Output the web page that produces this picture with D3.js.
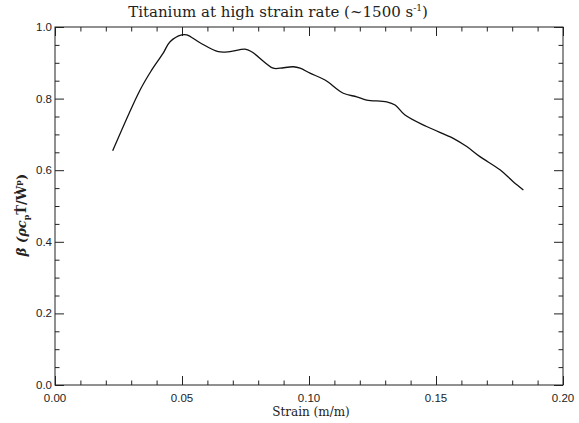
<!DOCTYPE html>
<html>
<head>
<meta charset="utf-8">
<script src="https://cdn.jsdelivr.net/npm/d3@7/dist/d3.min.js"></script>
<style>
  html, body { margin: 0; padding: 0; background: #fff; }
  svg { display: block; }
</style>
</head>
<body>
<svg id="chart" width="579" height="423"></svg>
<script>
// Strain (m/m) and the fraction of plastic work converted to heat
const strain = [0.0227, 0.0335, 0.0381, 0.0426, 0.0453, 0.0499, 0.0519, 0.0571, 0.0643, 0.0689,
  0.0748, 0.0774, 0.0859, 0.0886, 0.0938, 0.0965, 0.1004, 0.1063, 0.1135, 0.1188,
  0.1227, 0.1306, 0.1339, 0.1378, 0.1463, 0.1568, 0.1621, 0.1673, 0.1752, 0.1804, 0.1844];
const beta = [0.654, 0.824, 0.880, 0.927, 0.959, 0.978, 0.978, 0.956, 0.931, 0.931,
  0.938, 0.931, 0.885, 0.885, 0.889, 0.885, 0.871, 0.852, 0.815, 0.805,
  0.796, 0.791, 0.782, 0.754, 0.722, 0.689, 0.666, 0.638, 0.601, 0.568, 0.545];

const xTicks = [0.00, 0.05, 0.10, 0.15, 0.20];
const yTicks = [0.0, 0.2, 0.4, 0.6, 0.8, 1.0];
const xMinor = d3.range(0, 0.2001, 0.01);
const yMinor = d3.range(0, 1.0001, 0.05);

const L = 55, R = 563, T = 27, B = 385;
const svg = d3.select("#chart");
const x = d3.scaleLinear().domain([0, 0.2]).range([L, R]);
const y = d3.scaleLinear().domain([0, 1.0]).range([B, T]);

const ink = "#222";
const tickFont = "Liberation Sans, Arial, sans-serif";
const serif = "DejaVu Serif, serif";

// Frame
svg.append("rect").attr("x", L).attr("y", T).attr("width", R - L).attr("height", B - T)
  .attr("fill", "none").attr("stroke", ink).attr("stroke-width", 1);

// Inward ticks on all four sides
const isMajor = (v, list) => list.some(t => Math.abs(t - v) < 1e-9);
svg.append("g").attr("transform", `translate(0,${B})`)
  .call(d3.axisBottom(x).tickValues(xMinor).tickSizeOuter(0).tickFormat(""))
  .call(g => { g.select(".domain").remove();
    g.selectAll(".tick line").attr("stroke", ink)
      .attr("y2", d => isMajor(d, xTicks) ? -9 : -4.5); });
svg.append("g").attr("transform", `translate(0,${T})`)
  .call(d3.axisTop(x).tickValues(xMinor).tickSizeOuter(0).tickFormat(""))
  .call(g => { g.select(".domain").remove();
    g.selectAll(".tick line").attr("stroke", ink)
      .attr("y2", d => isMajor(d, xTicks) ? 9 : 4.5); });
svg.append("g").attr("transform", `translate(${L},0)`)
  .call(d3.axisLeft(y).tickValues(yMinor).tickSizeOuter(0).tickFormat(""))
  .call(g => { g.select(".domain").remove();
    g.selectAll(".tick line").attr("stroke", ink)
      .attr("x2", d => isMajor(d, yTicks) ? 9 : 4.5); });
svg.append("g").attr("transform", `translate(${R},0)`)
  .call(d3.axisRight(y).tickValues(yMinor).tickSizeOuter(0).tickFormat(""))
  .call(g => { g.select(".domain").remove();
    g.selectAll(".tick line").attr("stroke", ink)
      .attr("x2", d => isMajor(d, yTicks) ? -9 : -4.5); });

// Tick labels
svg.append("g").selectAll("text").data(xTicks).join("text")
  .attr("x", d => x(d)).attr("y", 401.5)
  .attr("text-anchor", "middle").attr("font-family", tickFont).attr("font-size", 11.5)
  .attr("fill", ink).text(d => d3.format(".2f")(d));
svg.append("g").selectAll("text").data(yTicks).join("text")
  .attr("x", L - 3).attr("y", d => y(d) + 4)
  .attr("text-anchor", "end").attr("font-family", tickFont).attr("font-size", 11.5)
  .attr("fill", ink).text(d => d3.format(".1f")(d));

// Curve
svg.append("path")
  .datum(strain.map((s, i) => [s, beta[i]]))
  .attr("fill", "none").attr("stroke", "#111").attr("stroke-width", 1.3)
  .attr("d", d3.line().x(d => x(d[0])).y(d => y(d[1])).curve(d3.curveCatmullRom.alpha(0.5)));

// Title
const title = svg.append("text").attr("x", 278).attr("y", 17)
  .attr("text-anchor", "middle").attr("font-family", serif).attr("font-size", 15).attr("fill", ink);
title.append("tspan").text("Titanium at high strain rate (~1500 s");
title.append("tspan").attr("dy", -6).attr("font-size", 9).text("-1");
title.append("tspan").attr("dy", 6).text(")");

// X axis title
svg.append("text").attr("x", 311).attr("y", 416)
  .attr("text-anchor", "middle").attr("font-family", serif).attr("font-size", 12)
  .attr("fill", ink).text("Strain (m/m)");

// Y axis title
const yl = svg.append("text").attr("transform", "translate(26,215) rotate(-90)")
  .attr("text-anchor", "middle").attr("font-family", serif).attr("font-size", 13)
  .attr("font-weight", "bold").attr("fill", ink);
yl.append("tspan").attr("font-style", "italic").text("β (ρc");
yl.append("tspan").attr("dy", 3).attr("font-size", 8).text("p");
yl.append("tspan").attr("dy", -3).text("\u1E6A/\u1E86");
yl.append("tspan").attr("dy", -5).attr("font-size", 8).text("p");
yl.append("tspan").attr("dy", 5).text(")");
</script>
</body>
</html>
